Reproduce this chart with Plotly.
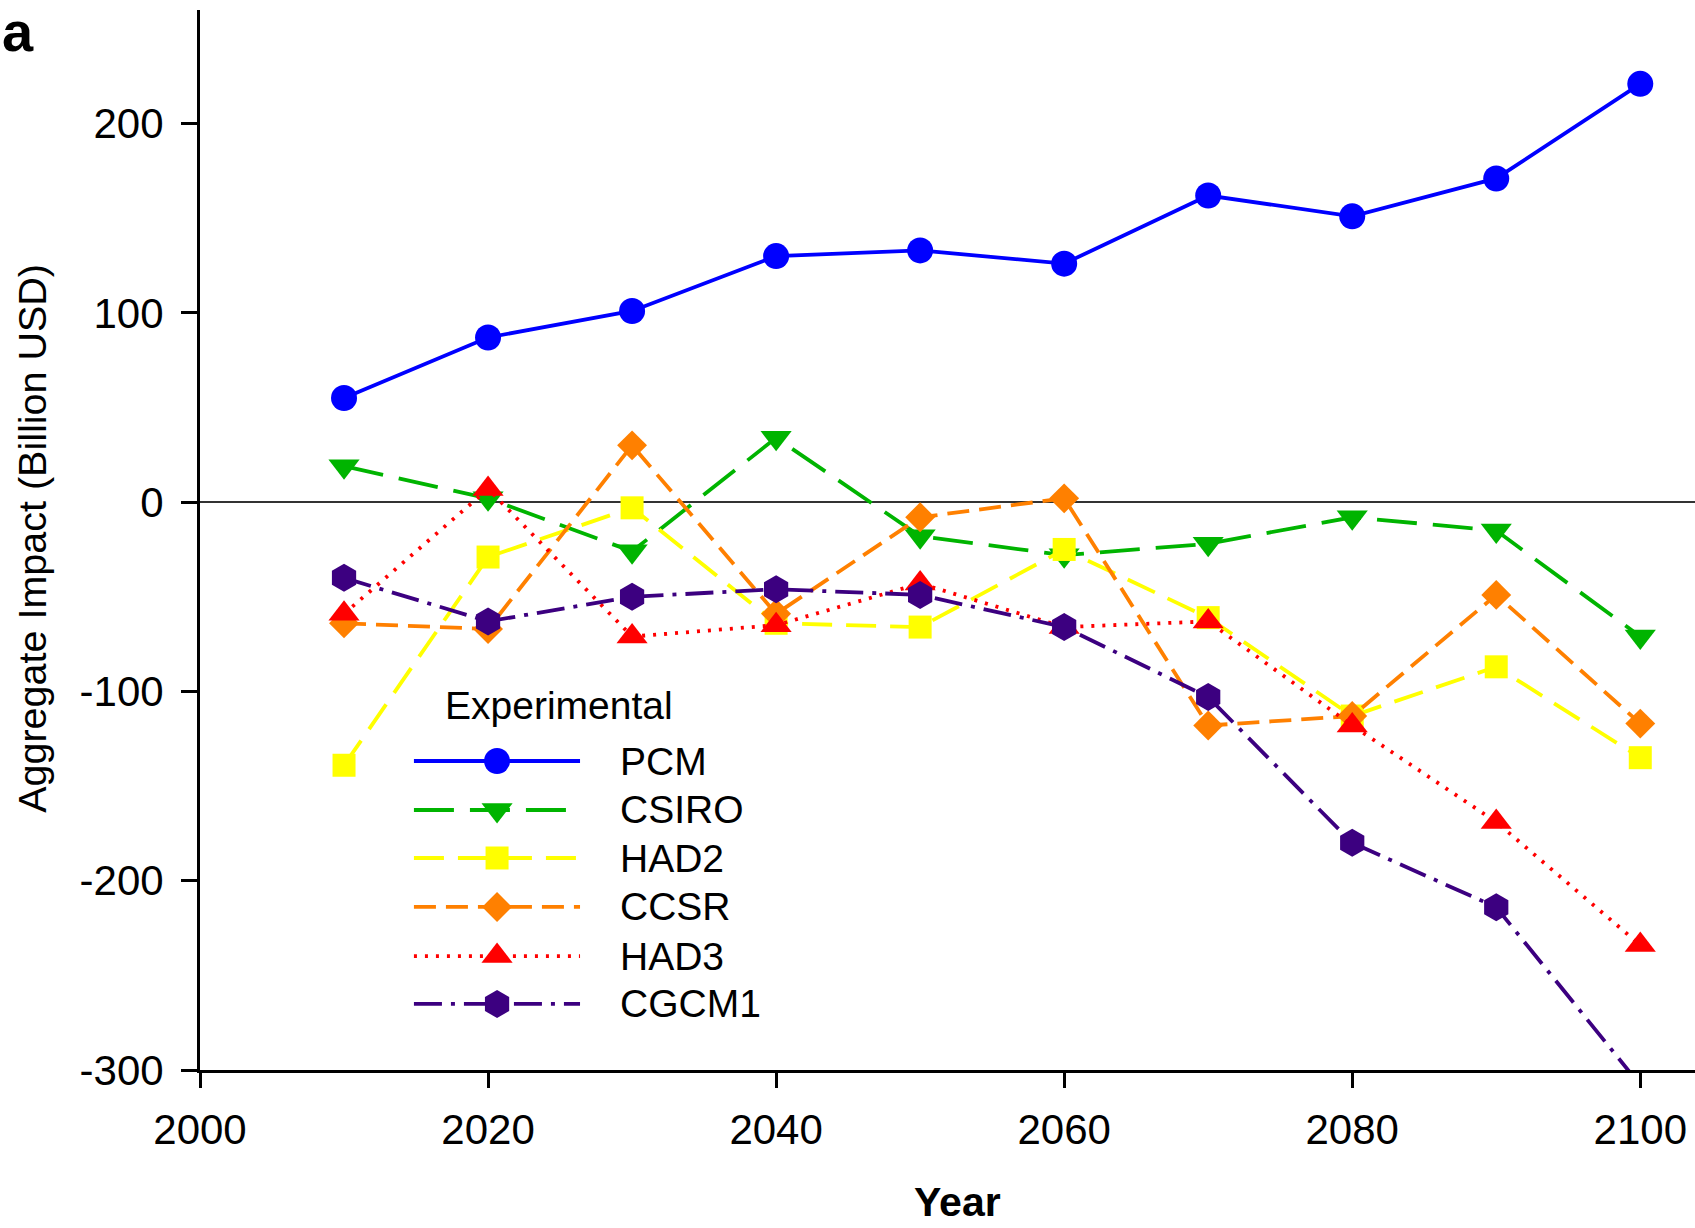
import plotly.graph_objects as go

years = [2010, 2020, 2030, 2040, 2050, 2060, 2070, 2080, 2090, 2100]
pcm = [55, 87, 101, 130, 133, 126, 162, 151, 171, 221]
csiro = [19, 2, -26, 34, -18, -28, -22, -8, -15, -71]
had2 = [-139, -29, -3, -64, -66, -25, -61, -113, -87, -135]
ccsr = [-64, -67, 30, -59, -8, 2, -118, -113, -49, -117]
had3 = [-59, 7, -71, -65, -43, -66, -63, -118, -169, -234]
cgcm1 = [-40, -63, -50, -46, -49, -66, -103, -180, -214, -308]

series_names = ["PCM", "CSIRO", "HAD2", "CCSR", "HAD3", "CGCM1"]
series_vals = [pcm, csiro, had2, ccsr, had3, cgcm1]
colors = ["#0000FF", "#00B400", "#FFFF00", "#FF8000", "#FF0000", "#3C0080"]
dashes = ["solid", "40px,16px", "30px,14px", "22px,10px", "3px,8px", "28px,9px,4px,9px"]
symbols = ["circle", "triangle-down", "square", "diamond", "triangle-up", "hexagon"]
sizes = [26, 27, 23, 23, 27, 28]

x_ticks = [2000, 2020, 2040, 2060, 2080, 2100]
y_ticks = [-300, -200, -100, 0, 100, 200]
y_ticktext = ["-300", "-200", "-100", "0", "100", "200"]

FONT = "Liberation Sans, Arial, sans-serif"

fig = go.Figure()
for name, vals, c, d, s, sz in zip(series_names, series_vals, colors, dashes, symbols, sizes):
    fig.add_trace(go.Scatter(
        x=years, y=vals, mode="lines+markers", name=name, showlegend=False,
        line=dict(color=c, width=3.8, dash=d),
        marker=dict(symbol=s, size=sz, color=c, line=dict(width=0)),
    ))

# Custom legend on an overlay axis (0..1 units)
leg_x0, leg_x1, leg_xm = 0.1431, 0.2542, 0.1987
leg_text_x = 0.2796
leg_rows = [0.2915, 0.2453, 0.2000, 0.1538, 0.1075, 0.0623]
for name, c, d, s, sz, ry in zip(series_names, colors, dashes, symbols, sizes, leg_rows):
    fig.add_trace(go.Scatter(
        x=[leg_x0, leg_x1], y=[ry, ry], mode="lines", xaxis="x2", yaxis="y2",
        line=dict(color=c, width=3.8, dash=d), showlegend=False, hoverinfo="skip"))
    fig.add_trace(go.Scatter(
        x=[leg_xm], y=[ry], mode="markers", xaxis="x2", yaxis="y2",
        marker=dict(symbol=s, size=sz, color=c, line=dict(width=0)),
        showlegend=False, hoverinfo="skip"))
    fig.add_annotation(x=leg_text_x, y=ry, xref="paper", yref="paper", text=name,
                       showarrow=False, xanchor="left", yanchor="middle",
                       font=dict(family=FONT, size=39, color="black"))

fig.add_annotation(x=0.1625, y=0.3443, xref="paper", yref="paper", text="Experimental",
                   showarrow=False, xanchor="left", yanchor="middle",
                   font=dict(family=FONT, size=39, color="black"))

# Axis titles and panel label
fig.add_annotation(x=0.5064, y=-0.1245, xref="paper", yref="paper", text="<b>Year</b>",
                   showarrow=False, xanchor="center", yanchor="middle",
                   font=dict(family=FONT, size=41, color="black"))
fig.add_annotation(x=-0.1124, y=0.502, xref="paper", yref="paper",
                   text="Aggregate Impact (Billion USD)", textangle=-90,
                   showarrow=False, xanchor="center", yanchor="middle",
                   font=dict(family=FONT, size=39.5, color="black"))
fig.add_annotation(x=-0.1338, y=1.0113, xref="paper", yref="paper", text="<b>a</b>",
                   showarrow=False, xanchor="left", yanchor="top",
                   font=dict(family=FONT, size=56, color="black"))

fig.update_layout(
    width=1695, height=1228,
    margin=dict(l=200, r=0, t=10, b=158),
    plot_bgcolor="white", paper_bgcolor="white",
    font=dict(family=FONT, size=42, color="black"),
    xaxis=dict(range=[2000, 2103.8], tickvals=x_ticks, showgrid=False, zeroline=False,
               showline=True, linecolor="black", linewidth=3,
               ticks="outside", ticklen=15, tickwidth=2.5, tickcolor="black",
               ticklabelstandoff=6,
               tickfont=dict(family=FONT, size=42, color="black")),
    yaxis=dict(range=[-300, 260], tickvals=y_ticks, ticktext=y_ticktext, showgrid=False,
               zeroline=True, zerolinecolor="#333333", zerolinewidth=1.5,
               showline=True, linecolor="black", linewidth=3,
               ticks="outside", ticklen=16, tickwidth=3, tickcolor="black",
               ticklabelstandoff=9,
               tickfont=dict(family=FONT, size=42, color="black")),
    xaxis2=dict(range=[0, 1], overlaying="x", anchor="y2", visible=False, domain=[0, 1]),
    yaxis2=dict(range=[0, 1], overlaying="y", anchor="x2", visible=False, domain=[0, 1]),
    showlegend=False,
)

fig.write_html("out.html", config={"displayModeBar": False},
               post_script="document.body.style.margin='0';document.body.style.overflow='hidden';")
